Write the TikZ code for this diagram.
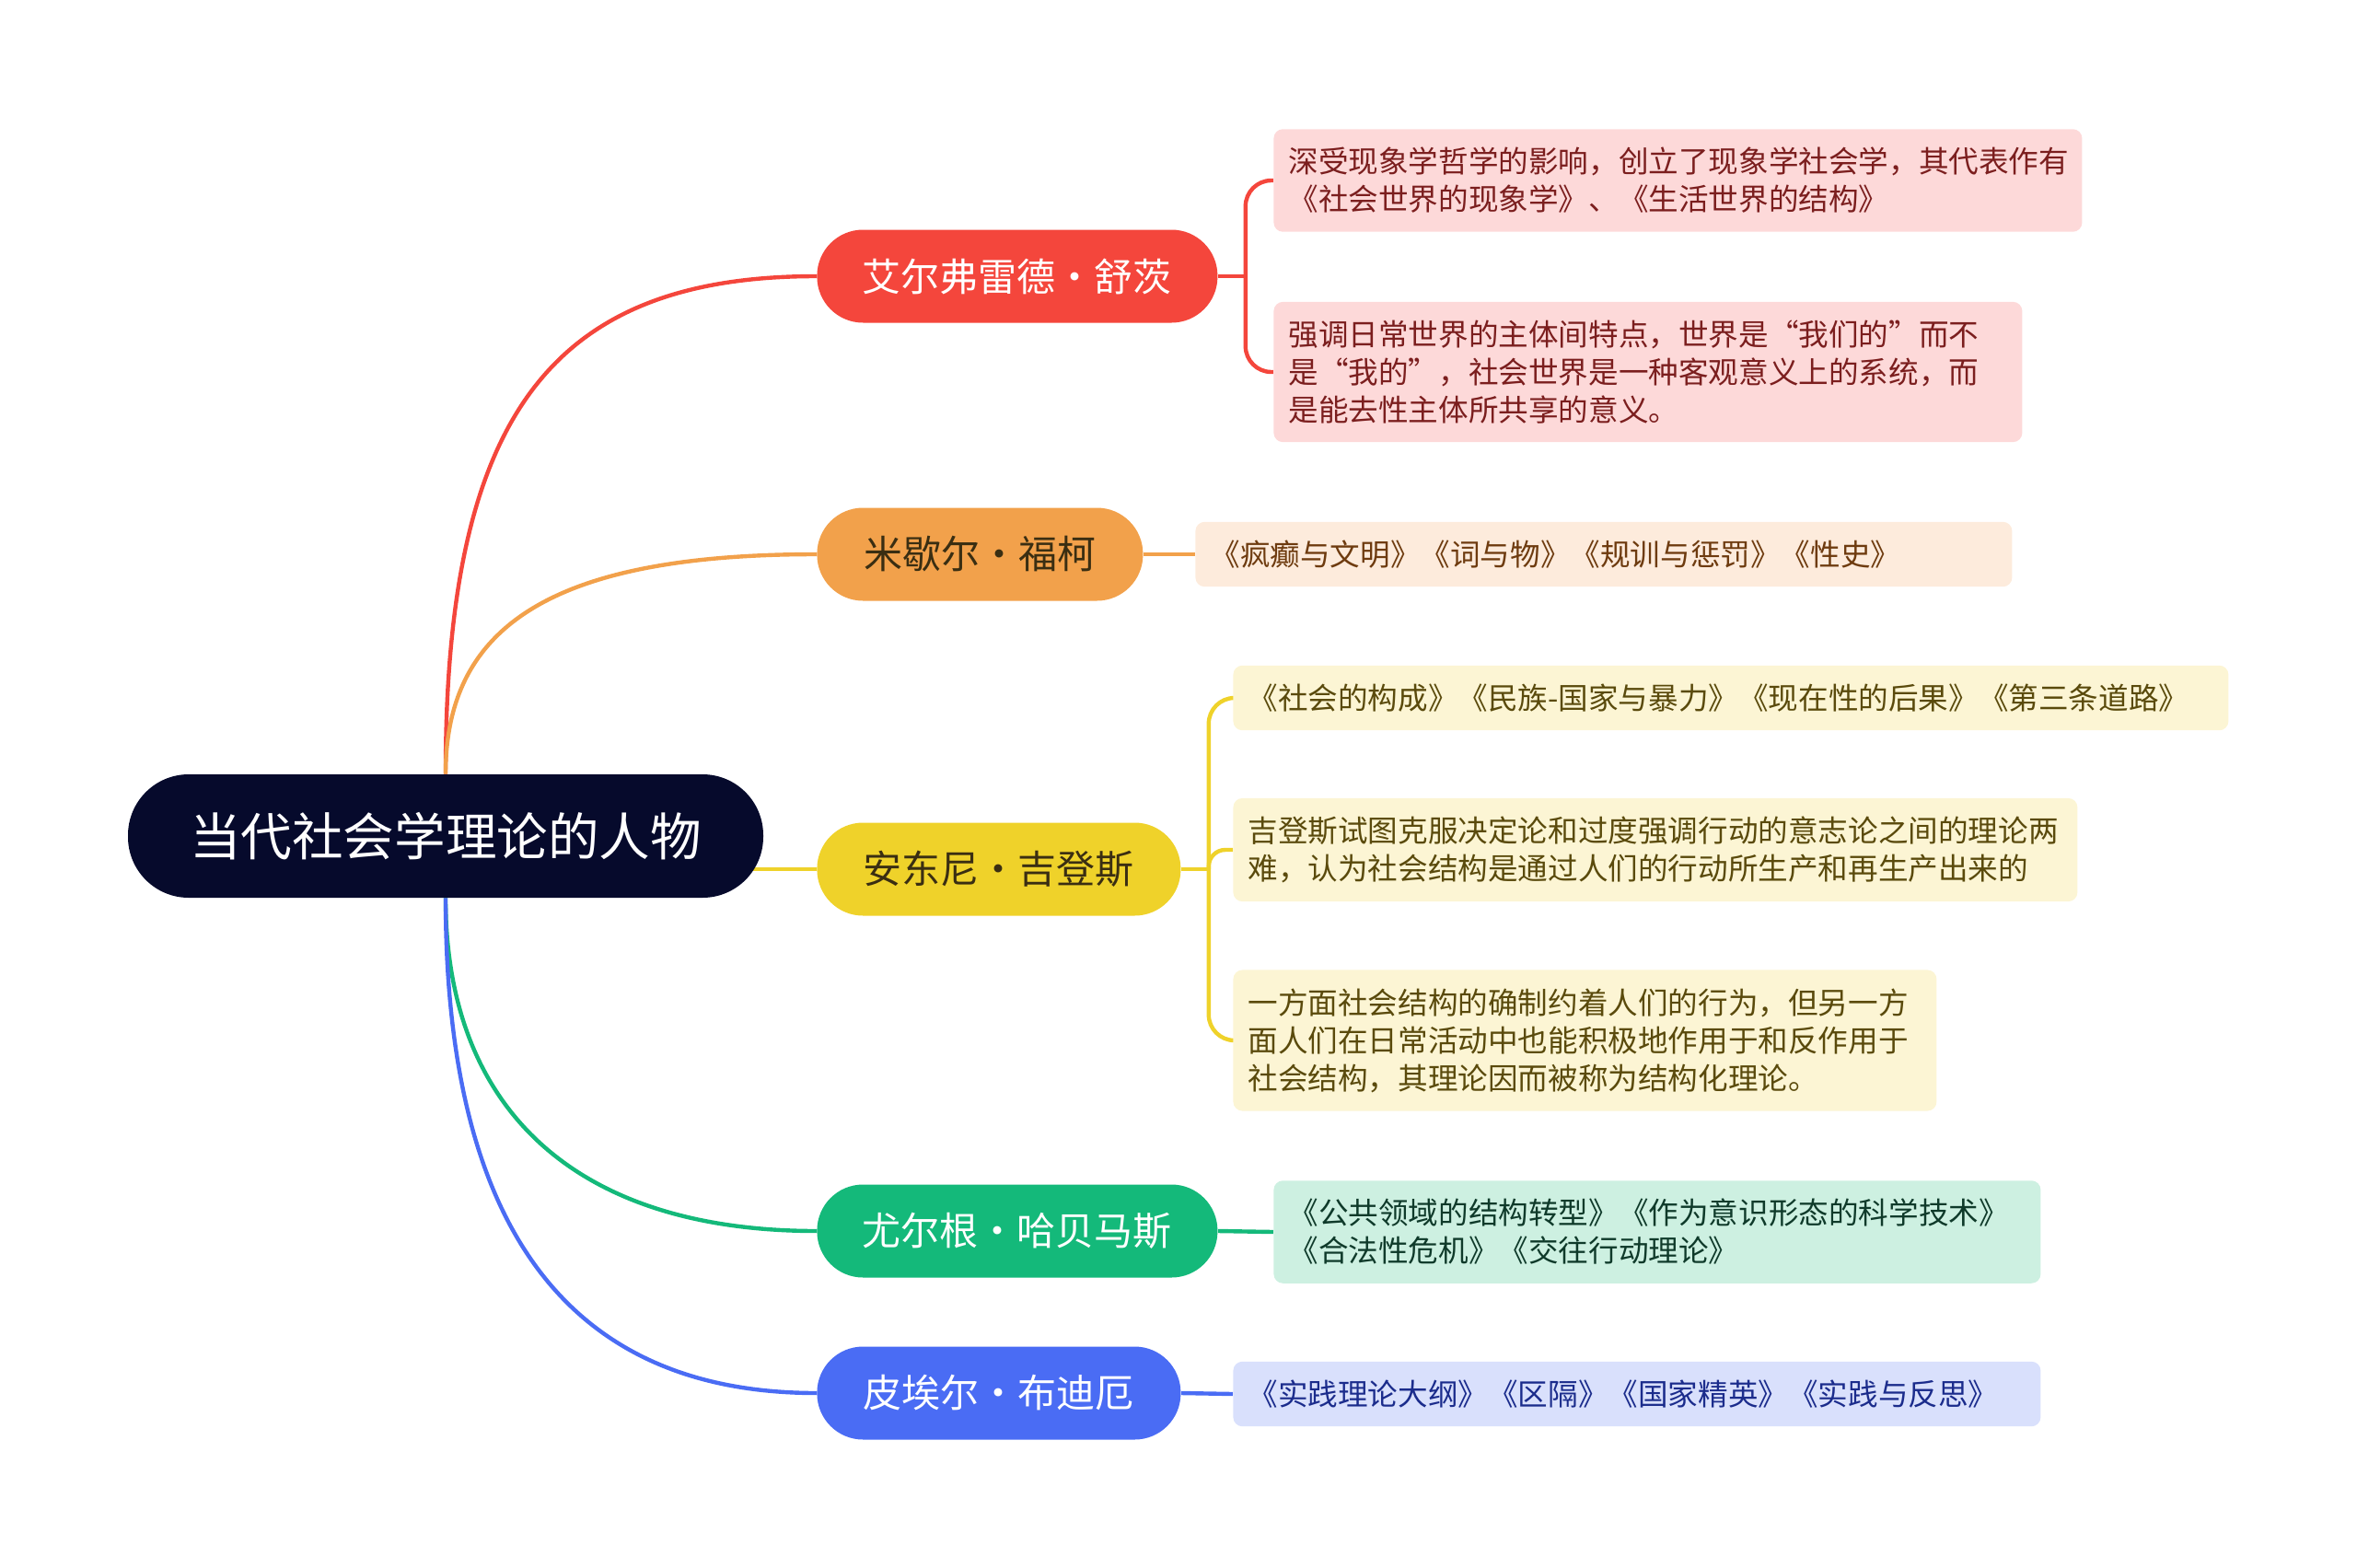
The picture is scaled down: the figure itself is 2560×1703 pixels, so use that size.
\documentclass[tikz,border=0pt]{standalone}
\usepackage{fontspec}
\setmainfont{Noto Sans CJK SC}
\usepackage{tikz}
\usetikzlibrary{positioning,calc,backgrounds}
\usepackage{xcolor}
\definecolor{rootc}{HTML}{060A2C}
\definecolor{schutzc}{HTML}{F4463C}
\definecolor{foucaultc}{HTML}{F2A14B}
\definecolor{giddensc}{HTML}{EFD22A}
\definecolor{habermasc}{HTML}{14B97A}
\definecolor{bourdieuc}{HTML}{4A6CF4}
\definecolor{schutzleaf}{HTML}{FDD9D9}
\definecolor{foucaultleaf}{HTML}{FDEBDC}
\definecolor{giddensleaf}{HTML}{FCF5D4}
\definecolor{habermasleaf}{HTML}{CDF0E1}
\definecolor{bourdieuleaf}{HTML}{D9E0FC}
\definecolor{schutztext}{HTML}{7B1E1E}
\definecolor{foucaulttext}{HTML}{6E3B0F}
\definecolor{giddenstext}{HTML}{5A4A0C}
\definecolor{habermastext}{HTML}{0F3A2A}
\definecolor{bourdieutext}{HTML}{1B2C8C}
\definecolor{darktopic}{HTML}{3A2E12}
\tikzset{
  rootnode/.style={fill=rootc,text=white,rounded corners=33pt,minimum width=345pt,
    minimum height=67pt,inner sep=0pt,font=\fontsize{27.8}{32}\selectfont},
  topic/.style={rounded corners=25pt,minimum height=50.5pt,inner xsep=0pt,
    anchor=west,font=\fontsize{21}{25}\selectfont},
  leaf/.style={rounded corners=5pt,inner xsep=8pt,inner ysep=10pt,align=left,
    anchor=west,text width=#1,font=\fontsize{16.3}{20.5}\selectfont},
  link/.style={line width=2.2pt},
  bracket/.style={link,rounded corners=14pt},
}

\begin{document}
\begin{tikzpicture}[x=0.5pt,y=-0.5pt]
\useasboundingbox (0,0) rectangle (2560,1703);

\node[rootnode] (root) at (484,908) {当代社会学理论的人物};

\node[topic,fill=schutzc,text=white,minimum width=217.5pt] (schutz) at (887,300) {艾尔弗雷德・舒茨};
\node[topic,fill=foucaultc,text=darktopic,minimum width=177pt] (foucault) at (887,602) {米歇尔・福柯};
\node[topic,fill=giddensc,text=darktopic,minimum width=197.5pt] (giddens) at (887,944) {安东尼・吉登斯};
\node[topic,fill=habermasc,text=white,minimum width=217.5pt] (habermas) at (887,1337) {尤尔根・哈贝马斯};
\node[topic,fill=bourdieuc,text=white,minimum width=197.5pt] (bourdieu) at (887,1513) {皮埃尔・布迪厄};

% leaves
\node[leaf=423pt,fill=schutzleaf,text=schutztext] (s1) at (1383,196)
  {深受现象学哲学的影响，创立了现象学社会学，其代表作有\\《社会世界的现象学》、《生活世界的结构》};
\node[leaf=390.5pt,fill=schutzleaf,text=schutztext] (s2) at (1383,404)
  {强调日常世界的主体间特点，世界是“我们的”而不\\是“我的”，社会世界是一种客观意义上的系统，而\\是能去性主体所共享的意义。};
\node[leaf=427.5pt,fill=foucaultleaf,text=foucaulttext] (f1) at (1298,602)
  {《疯癫与文明》《词与物》《规训与惩罚》《性史》};
\node[leaf=524.5pt,fill=giddensleaf,text=giddenstext] (g1) at (1339,758)
  {《社会的构成》《民族-国家与暴力》《现在性的后果》《第三条道路》};
\node[leaf=442.5pt,fill=giddensleaf,text=giddenstext] (g2) at (1339,923)
  {吉登斯试图克服决定论和过度强调行动的意志论之间的理论两\\难，认为社会结构是通过人们的行动所生产和再生产出来的};
\node[leaf=366pt,fill=giddensleaf,text=giddenstext] (g3) at (1339,1130)
  {一方面社会结构的确制约着人们的行为，但另一方\\面人们在日常活动中也能积极地作用于和反作用于\\社会结构，其理论因而被称为结构化理论。};
\node[leaf=400.5pt,fill=habermasleaf,text=habermastext] (h1) at (1383,1338)
  {《公共领域的结构转型》《作为意识形态的科学技术》\\《合法性危机》《交往行动理论》};
\node[leaf=422.5pt,fill=bourdieuleaf,text=bourdieutext] (b1) at (1339,1514)
  {《实践理论大纲》《区隔》《国家精英》《实践与反思》};

\begin{scope}[on background layer]
% root to topics
\draw[link,schutzc] (root.north) .. controls (484,450) and (600,300) .. (schutz.west);
\draw[link,foucaultc] (root.north) .. controls (484,680) and (600,602) .. (foucault.west);
\draw[link,giddensc] (root.center |- giddens.west) -- (giddens.west);
\draw[link,habermasc] (root.south) .. controls (484,1200) and (620,1337) .. (habermas.west);
\draw[link,bourdieuc] (root.south) .. controls (484,1350) and (630,1513) .. (bourdieu.west);

% topics to leaves
\coordinate (sj) at ($(schutz.east)+(30,0)$);
\coordinate (gj) at ($(giddens.east)+(30,0)$);
\draw[link,schutzc] (schutz.east) -- (sj);
\draw[bracket,schutzc] (sj) |- (s1.west);
\draw[bracket,schutzc] (sj) |- (s2.west);
\draw[link,foucaultc] (foucault.east) -- (f1.west);
\draw[link,giddensc] (giddens.east) -- (gj);
\draw[bracket,giddensc] (gj) |- (g1.west);
\draw[bracket,giddensc,rounded corners=9pt] (gj) |- (g2.west);
\draw[bracket,giddensc] (gj) |- (g3.west);
\draw[link,habermasc] (habermas.east) -- (h1.west);
\draw[link,bourdieuc] (bourdieu.east) -- (b1.west);
\end{scope}

\end{tikzpicture}
\end{document}
